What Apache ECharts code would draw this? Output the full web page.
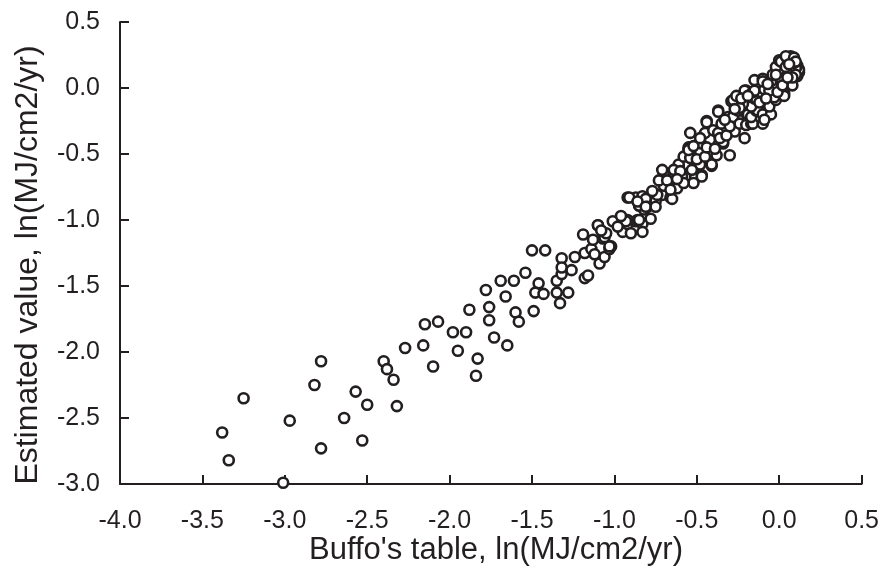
<!DOCTYPE html>
<html>
<head>
<meta charset="utf-8">
<script src="https://cdn.jsdelivr.net/npm/echarts@6/dist/echarts.min.js"></script>
<style>html,body{margin:0;padding:0;background:#fff;}#c{width:882px;height:570px;}</style>
</head>
<body>
<div id="c"></div>
<script>
const xTitle = "Buffo's table, ln(MJ/cm2/yr)";
const yTitle = "Estimated value, ln(MJ/cm2/yr)";
const xRange = [-4.0, 0.5];
const yRange = [-3.0, 0.5];
const tickStep = 0.5;

const sparsePoints = [
[-3.25,-2.35],[-3.38,-2.61],[-3.34,-2.82],[-3.01,-2.99],[-2.97,-2.52],[-2.78,-2.07],[-2.82,-2.25],[-2.78,-2.73],
[-2.64,-2.50],[-2.57,-2.30],[-2.50,-2.40],[-2.53,-2.67],[-2.40,-2.07],[-2.38,-2.13],[-2.34,-2.21],[-2.32,-2.41]
];
const middlePoints = [
[-2.27,-1.97],[-2.16,-1.95],[-2.15,-1.79],[-2.07,-1.77],[-2.10,-2.11],[-1.98,-1.85],[-1.90,-1.85],[-1.95,-1.99],
[-1.88,-1.68],[-1.83,-2.05],[-1.84,-2.18],[-1.78,-1.53],[-1.76,-1.66],[-1.76,-1.76],[-1.73,-1.89],[-1.65,-1.95],
[-1.69,-1.46],[-1.61,-1.46],[-1.66,-1.58],[-1.60,-1.70],[-1.58,-1.77],[-1.54,-1.40],[-1.49,-1.69],[-1.50,-1.23],
[-1.42,-1.23],[-1.46,-1.48],[-1.48,-1.55],[-1.43,-1.56],[-1.35,-1.46],[-1.35,-1.55],[-1.33,-1.63],[-1.28,-1.55],
[-1.32,-1.29],[-1.32,-1.41],[-1.32,-1.36],[-1.26,-1.38],[-1.24,-1.28],[-1.18,-1.44],[-1.16,-1.42],[-1.19,-1.11],
[-1.18,-1.25],[-1.14,-1.22],[-1.10,-1.04],[-1.09,-1.33],[-1.06,-1.28],[-1.07,-1.14],[-1.03,-1.22],[-1.01,-1.01],
[-0.95,-1.09],[-0.92,-1.03],[-0.92,-0.83],[-0.90,-1.10],[-0.87,-0.83],[-0.85,-0.89],[-0.87,-1.01],[-0.83,-1.03],
[-1.10,-1.04],[-1.06,-1.13],[-1.13,-1.15],[-1.02,-1.20],[-1.05,-1.10],[-1.03,-1.20],[-0.86,-1.00],[-0.78,-0.99],
[-0.83,-1.09],[-0.85,-1.00],[-0.92,-1.00],[-0.93,-1.01],[-1.12,-1.26],[-0.98,-1.05],[-0.96,-0.97],[-1.08,-1.08]
];
const densePoints = [
[-0.83,-0.82],[-0.81,-0.84],[-0.80,-0.90],[-0.82,-0.92],[-0.85,-0.89],[-0.91,-0.83],[-0.86,-0.86],[-0.81,-0.90],
[-0.75,-0.86],[-0.71,-0.81],[-0.74,-0.81],[-0.66,-0.83],[-0.65,-0.84],[-0.70,-0.74],[-0.63,-0.75],[-0.62,-0.76],
[-0.70,-0.65],[-0.70,-0.64],[-0.64,-0.64],[-0.61,-0.59],[-0.61,-0.58],[-0.73,-0.70],[-0.57,-0.68],[-0.57,-0.67],
[-0.52,-0.72],[-0.47,-0.66],[-0.47,-0.67],[-0.51,-0.57],[-0.51,-0.58],[-0.41,-0.59],[-0.41,-0.58],[-0.48,-0.58],
[-0.71,-0.62],[-0.64,-0.62],[-0.59,-0.67],[-0.58,-0.52],[-0.54,-0.53],[-0.55,-0.45],[-0.55,-0.46],[-0.55,-0.47],
[-0.49,-0.50],[-0.48,-0.48],[-0.38,-0.51],[-0.30,-0.51],[-0.47,-0.42],[-0.42,-0.39],[-0.34,-0.42],[-0.34,-0.41],
[-0.21,-0.38],[-0.54,-0.34],[-0.45,-0.34],[-0.40,-0.32],[-0.37,-0.34],[-0.27,-0.33],[-0.44,-0.25],[-0.44,-0.26],
[-0.35,-0.27],[-0.37,-0.17],[-0.37,-0.18],[-0.31,-0.22],[-0.25,-0.23],[-0.28,-0.22],[-0.24,-0.27],[-0.20,-0.28],
[-0.17,-0.27],[-0.16,-0.27],[-0.10,-0.27],[-0.23,-0.17],[-0.25,-0.17],[-0.19,-0.20],[-0.17,-0.22],[-0.14,-0.17],
[-0.13,-0.17],[-0.10,-0.20],[-0.05,-0.20],[-0.09,-0.24],[-0.18,-0.13],[-0.17,-0.14],[-0.22,-0.12],[-0.07,-0.13],
[-0.06,-0.14],[-0.29,-0.10],[-0.28,-0.09],[-0.24,-0.15],[-0.15,-0.08],[-0.14,-0.08],[-0.02,-0.09],[-0.03,-0.07],
[-0.20,-0.02],[-0.21,-0.02],[-0.16,-0.03],[-0.11,-0.03],[-0.15,-0.02],[-0.09,-0.01],[-0.06,-0.02],[0.03,-0.04],
[0.03,-0.06],[-0.15,0.06],[-0.10,0.07],[-0.10,0.05],[-0.04,0.06],[-0.04,0.10],[0.01,0.05],[0.01,0.07],
[0.07,0.04],[0.08,0.02],[0.11,0.09],[0.06,0.11],[0.06,0.12],[0.00,0.12],[0.00,0.14],[0.12,0.12],
[0.12,0.14],[0.11,0.17],[0.10,0.15],[0.09,0.19],[0.02,0.19],[-0.02,0.16],[0.00,0.21],[0.01,0.20],
[0.05,0.22],[0.08,0.21],[0.07,0.21],[0.07,0.24],[0.04,0.24],[0.09,0.23],[0.10,0.10],[0.08,0.08],
[-0.77,-0.78],[-0.68,-0.70],[-0.66,-0.77],[-0.60,-0.63],[-0.58,-0.72],[-0.53,-0.62],[-0.50,-0.54],[-0.45,-0.52],
[-0.44,-0.45],[-0.39,-0.46],[-0.36,-0.38],[-0.32,-0.36],[-0.30,-0.29],[-0.33,-0.24],[-0.27,-0.16],[-0.26,-0.06],
[-0.23,-0.08],[-0.19,-0.06],[-0.12,-0.11],[-0.08,-0.08],[-0.01,-0.03],[0.02,0.02],[0.05,0.08],[0.04,0.16],
[-0.02,0.10],[-0.07,0.03],[0.10,0.20],[0.06,0.18],[-0.48,-0.38],[-0.52,-0.44],[-0.62,-0.69],[-0.75,-0.90]
];

const allPoints = sparsePoints.concat(middlePoints, densePoints);
const ink = '#231f20';
const fam = '"Liberation Sans", Arial, sans-serif';

const chart = echarts.init(document.getElementById('c'), null, {renderer: 'canvas'});
chart.setOption({
  animation: false,
  backgroundColor: '#fff',
  grid: {left: 120, right: 19, top: 22, bottom: 86, containLabel: false},
  xAxis: {
    type: 'value', min: xRange[0], max: xRange[1], interval: tickStep,
    splitLine: {show: false},
    axisLine: {show: true, onZero: false, lineStyle: {color: ink, width: 2}},
    axisTick: {show: true, inside: true, length: 9, lineStyle: {color: ink, width: 2}},
    axisLabel: {margin: 25, color: ink, fontSize: 25, fontFamily: fam, formatter: v => v.toFixed(1)}
  },
  yAxis: {
    type: 'value', min: yRange[0], max: yRange[1], interval: tickStep,
    splitLine: {show: false},
    axisLine: {show: true, onZero: false, lineStyle: {color: ink, width: 2}},
    axisTick: {show: true, inside: true, length: 9, lineStyle: {color: ink, width: 2}},
    axisLabel: {margin: 20, color: ink, fontSize: 25, fontFamily: fam, formatter: v => v.toFixed(1)}
  },
  graphic: [
    {type: 'text', x: 496, y: 550, style: {text: xTitle, fill: ink, font: '31px ' + fam, textAlign: 'center', textVerticalAlign: 'middle'}},
    {type: 'text', x: 28, y: 265, rotation: Math.PI / 2, style: {text: yTitle, fill: ink, font: '32px ' + fam, textAlign: 'center', textVerticalAlign: 'middle'}}
  ],
  series: [{
    type: 'scatter',
    data: allPoints,
    symbol: 'circle',
    symbolSize: 10,
    clip: false,
    itemStyle: {color: '#ffffff', borderColor: ink, borderWidth: 2.6, opacity: 1}
  }]
});
</script>
</body>
</html>
